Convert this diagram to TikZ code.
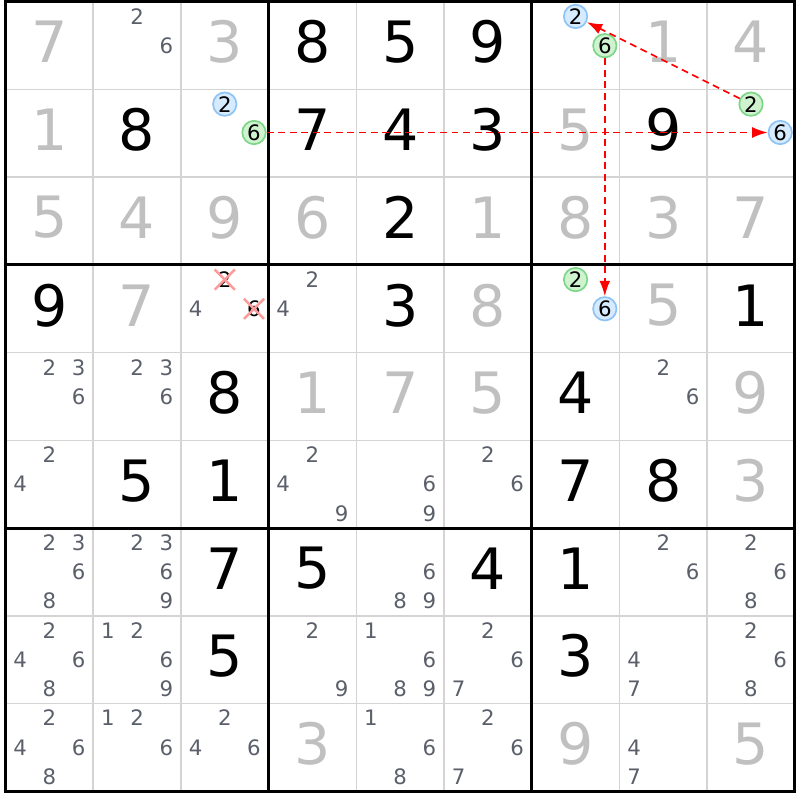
\documentclass[tikz,border=0pt]{standalone}
\usepackage{fontspec}
\setmainfont{DejaVu Sans}
\usetikzlibrary{arrows.meta}
\usetikzlibrary{shapes.misc}

\definecolor{solvedgrey}{HTML}{C0C0C0}
\definecolor{candgrey}{HTML}{5A5F6A}
\definecolor{cellgrey}{HTML}{D4D4D4}
\definecolor{onblue}{HTML}{D6EBFF}
\definecolor{onblueline}{HTML}{8EC3F5}
\definecolor{ongreen}{HTML}{CFF2CF}
\definecolor{ongreenline}{HTML}{7ED68A}
\definecolor{linkred}{HTML}{FF0000}
\definecolor{xpink}{HTML}{FF9A9A}

\tikzset{
    cellline/.style={
           draw=cellgrey,
           line width=1pt,
           },
    boxline/.style={
           draw=black,
           line width=2pt,
           line cap=rect,
           },
    given/.style={
           font=\fontsize{37}{37}\selectfont,
           text=black,
           inner sep=0pt,
           },
    solved/.style={
           given,
           text=solvedgrey,
           },
    cand/.style={
           font=\fontsize{13.8}{14}\selectfont,
           text=candgrey,
           inner sep=0pt,
           },
    oncand/.style={
           cand,
           text=black,
           circle,
           line width=1.1pt,
           minimum size=15.2pt,
           },
    bluecand/.style={
           oncand,
           draw=onblueline,
           fill=onblue,
           },
    greencand/.style={
           oncand,
           draw=ongreenline,
           fill=ongreen,
           },
    offcand/.style={
           cand,
           text=black,
           cross out,
           draw=xpink,
           line width=1.6pt,
           minimum size=11.5pt,
           },
    link/.style={
           draw=linkred,
           line width=1.1pt,
           dash pattern=on 4.5pt off 3pt,
           -{Latex[length=10pt,width=7pt]},
           },
}

\begin{document}
\begin{tikzpicture}[x=2cm,y=-2cm]
 \useasboundingbox (-0.063,-0.021) rectangle (9.059,9.101);

 % grid
 \foreach \i in {1,2,4,5,7,8}
   \draw[cellline] (\i,0) -- (\i,9) (0,\i) -- (9,\i);
 \foreach \i in {3,6}
   \draw[boxline] (\i,0) -- (\i,9) (0,\i) -- (9,\i);
 \draw[boxline] (0,0) rectangle (9,9);

 % digits of the puzzle
 \foreach \r/\c/\v in {1/4/8,1/5/5,1/6/9,2/2/8,2/4/7,2/5/4,2/6/3,2/8/9,
   3/5/2,4/1/9,4/5/3,4/9/1,5/3/8,5/7/4,6/2/5,6/3/1,6/7/7,6/8/8,
   7/3/7,7/4/5,7/6/4,7/7/1,8/3/5,8/7/3}
   \node[given] (v\r\c) at (\c-0.5,\r-0.54) {\v};

 % digits filled in
 \foreach \r/\c/\v in {1/1/7,1/3/3,1/8/1,1/9/4,2/1/1,2/7/5,3/1/5,3/2/4,
   3/3/9,3/4/6,3/6/1,3/7/8,3/8/3,3/9/7,4/2/7,4/6/8,4/8/5,5/4/1,5/5/7,
   5/6/5,5/9/9,6/9/3,9/4/3,9/7/9,9/9/5}
   \node[solved] (v\r\c) at (\c-0.5,\r-0.54) {\v};

 % pencil marks
 \foreach \r/\c/\ds in {1/2/{2,6},4/3/{4},4/4/{2,4},5/1/{2,3,6},
   5/2/{2,3,6},5/8/{2,6},6/1/{2,4},6/4/{2,4,9},6/5/{6,9},6/6/{2,6},
   7/1/{2,3,6,8},7/2/{2,3,6,9},7/5/{6,8,9},7/8/{2,6},7/9/{2,6,8},
   8/1/{2,4,6,8},8/2/{1,2,6,9},8/4/{2,9},8/5/{1,6,8,9},8/6/{2,6,7},
   8/8/{4,7},8/9/{2,6,8},9/1/{2,4,6,8},9/2/{1,2,6},9/3/{2,4,6},
   9/5/{1,6,8},9/6/{2,6,7},9/8/{4,7}}
   \foreach \d in \ds
     \node[cand] (c\r\c-\d)
       at ({\c-1+(mod(\d-1,3)+0.5)/3},{\r-1+(floor((\d-1)/3)+0.5)/3}) {\d};

 % marked pencil marks
 \node[bluecand] (c17-2) at (6.5,0.1667) {2};
 \node[greencand] (c17-6) at (6.8333,0.5) {6};
 \node[bluecand] (c23-2) at (2.5,1.1667) {2};
 \node[greencand] (c23-6) at (2.8333,1.4897) {6};
 \node[greencand] (c29-2) at (8.5,1.1667) {2};
 \node[bluecand] (c29-6) at (8.8333,1.4897) {6};
 \node[greencand] (c47-2) at (6.5,3.1667) {2};
 \node[bluecand] (c47-6) at (6.8333,3.5) {6};
 \node[offcand] (c43-2) at (2.5,3.1667) {2};
 \node[offcand] (c43-6) at (2.8333,3.5) {6};

 % links
 \path
  (c23-6) edge[link] (c29-6)
  (c17-6) edge[link] (c47-6)
  (c29-2) edge[link] (c17-2)
 ;
\end{tikzpicture}
\end{document}
